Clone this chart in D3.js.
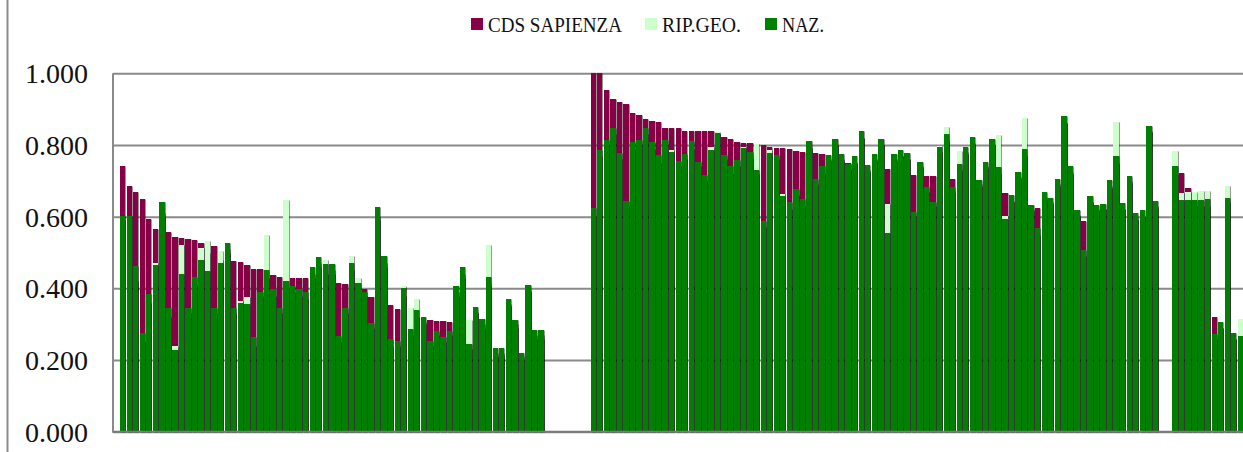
<!DOCTYPE html>
<html>
<head>
<meta charset="utf-8">
<script src="https://d3js.org/d3.v7.min.js"></script>
<style>
  body { margin: 0; background: #fff; }
  text { font-family: "Liberation Serif", "DejaVu Serif", serif; fill: #111; }
</style>
</head>
<body>
<svg id="chart" width="1243" height="452"></svg>
<script>
// series names and legend
var seriesNames = ["CDS SAPIENZA", "RIP.GEO.", "NAZ."];
var seriesColors = ["#870045", "#ccffcc", "#008000"];
var yTicks = [0, 0.2, 0.4, 0.6, 0.8, 1.0];

// values per category slot, null = empty slot between blocks
var cdsSapienza = [
  0.740, 0.686, 0.668, 0.648, 0.593, 0.566, 0.600, 0.558, 0.544, 0.540,
  0.539, 0.536, 0.527, 0.500, 0.518, 0.480, 0.500, 0.477, 0.473, 0.464,
  0.455, 0.455, 0.430, 0.436, 0.433, 0.400, 0.428, 0.428, 0.428, 0.430,
  0.460, 0.440, 0.440, 0.414, 0.412, 0.450, 0.390, 0.398, 0.375, 0.590,
  0.460, 0.353, 0.342, 0.380, 0.270, 0.320, 0.300, 0.312, 0.310, 0.308,
  0.306, 0.380, 0.430, 0.230, 0.330, 0.290, 0.410, 0.210, 0.210, 0.350,
  0.290, 0.200, 0.390, 0.260, 0.260,
  null, null, null, null, null, null, null,
  1.000, 1.000, 0.953, 0.927, 0.920, 0.913, 0.888, 0.883, 0.872, 0.866,
  0.865, 0.847, 0.847, 0.846, 0.839, 0.839, 0.839, 0.839, 0.839, 0.830,
  0.823, 0.818, 0.809, 0.806, 0.806, 0.720, 0.800, 0.793, 0.792, 0.791,
  0.788, 0.784, 0.781, 0.790, 0.778, 0.776, 0.760, 0.800, 0.760, 0.750,
  0.750, 0.820, 0.730, 0.760, 0.800, 0.733, 0.760, 0.770, 0.760, 0.717,
  0.740, 0.714, 0.714, 0.780, 0.810, 0.704, 0.730, 0.780, 0.800, 0.690,
  0.740, 0.800, 0.720, 0.667, 0.645, 0.710, 0.770, 0.620, 0.625, 0.655,
  0.640, 0.690, 0.860, 0.725, 0.605, 0.588, 0.640, 0.620, 0.620, 0.685,
  0.750, 0.620, 0.700, 0.595, 0.600, 0.840, 0.630,
  null, null,
  0.720, 0.723, 0.679, 0.630, 0.630, 0.630, 0.319, 0.290, 0.640, 0.260,
  0.250
];

var ripGeo = [
  0.590, 0.600, 0.420, 0.250, 0.360, 0.470, 0.610, 0.320, 0.239, 0.521,
  0.330, 0.410, 0.513, 0.532, 0.330, 0.504, 0.510, 0.330, 0.365, 0.376,
  0.240, 0.380, 0.548, 0.380, 0.330, 0.646, 0.390, 0.380, 0.370, 0.440,
  0.470, 0.479, 0.450, 0.250, 0.330, 0.489, 0.428, 0.380, 0.290, 0.600,
  0.470, 0.240, 0.240, 0.407, 0.344, 0.370, 0.305, 0.240, 0.270, 0.250,
  0.270, 0.390, 0.440, 0.312, 0.335, 0.300, 0.521, 0.220, 0.220, 0.355,
  0.300, 0.210, 0.395, 0.270, 0.270,
  null, null, null, null, null, null, null,
  0.600, 0.770, 0.800, 0.830, 0.760, 0.630, 0.790, 0.800, 0.830, 0.790,
  0.750, 0.800, 0.786, 0.740, 0.760, 0.790, 0.740, 0.700, 0.795, 0.836,
  0.760, 0.720, 0.740, 0.793, 0.760, 0.802, 0.570, 0.786, 0.760, 0.663,
  0.620, 0.660, 0.630, 0.795, 0.690, 0.720, 0.755, 0.800, 0.755, 0.730,
  0.750, 0.820, 0.725, 0.755, 0.800, 0.636, 0.755, 0.770, 0.760, 0.600,
  0.735, 0.670, 0.630, 0.797, 0.850, 0.670, 0.783, 0.775, 0.805, 0.685,
  0.735, 0.800, 0.828, 0.602, 0.640, 0.705, 0.874, 0.615, 0.550, 0.650,
  0.635, 0.685, 0.860, 0.720, 0.600, 0.490, 0.640, 0.615, 0.620, 0.680,
  0.863, 0.620, 0.695, 0.590, 0.600, 0.835, 0.625,
  null, null,
  0.784, 0.665, 0.668, 0.669, 0.672, 0.672, 0.260, 0.290, 0.686, 0.260,
  0.314
];

var naz = [
  0.603, 0.603, 0.463, 0.276, 0.384, 0.465, 0.642, 0.346, 0.228, 0.440,
  0.346, 0.431, 0.479, 0.447, 0.346, 0.472, 0.527, 0.346, 0.358, 0.356,
  0.265, 0.391, 0.451, 0.397, 0.346, 0.420, 0.407, 0.397, 0.391, 0.459,
  0.487, 0.468, 0.467, 0.268, 0.346, 0.470, 0.414, 0.391, 0.304, 0.627,
  0.490, 0.260, 0.253, 0.400, 0.287, 0.339, 0.319, 0.253, 0.282, 0.263,
  0.282, 0.407, 0.459, 0.246, 0.348, 0.314, 0.432, 0.234, 0.233, 0.370,
  0.311, 0.220, 0.409, 0.283, 0.283,
  null, null, null, null, null, null, null,
  0.625, 0.786, 0.814, 0.847, 0.777, 0.645, 0.809, 0.814, 0.848, 0.809,
  0.771, 0.814, 0.781, 0.756, 0.776, 0.810, 0.753, 0.716, 0.786, 0.833,
  0.772, 0.741, 0.758, 0.792, 0.780, 0.730, 0.587, 0.779, 0.772, 0.659,
  0.642, 0.676, 0.649, 0.812, 0.705, 0.741, 0.773, 0.817, 0.774, 0.746,
  0.768, 0.839, 0.744, 0.774, 0.817, 0.555, 0.774, 0.786, 0.777, 0.613,
  0.753, 0.684, 0.642, 0.793, 0.831, 0.684, 0.747, 0.793, 0.821, 0.702,
  0.752, 0.816, 0.739, 0.593, 0.660, 0.726, 0.789, 0.633, 0.569, 0.669,
  0.652, 0.705, 0.882, 0.741, 0.619, 0.507, 0.657, 0.633, 0.636, 0.701,
  0.768, 0.638, 0.714, 0.610, 0.618, 0.854, 0.644,
  null, null,
  0.740, 0.646, 0.646, 0.646, 0.646, 0.649, 0.273, 0.307, 0.653, 0.274,
  0.268
];

var series = [cdsSapienza, ripGeo, naz];
var slots = d3.range(naz.length);

var svg = d3.select("#chart");

// soft shadow like the office chart
var defs = svg.append("defs");
defs.append("filter")
    .attr("id", "shadow")
    .attr("x", "-10%").attr("y", "-5%")
    .attr("width", "130%").attr("height", "115%")
  .append("feDropShadow")
    .attr("dx", 1).attr("dy", 0.5)
    .attr("stdDeviation", 0.5)
    .attr("flood-color", "#000")
    .attr("flood-opacity", 0.4);

// outer frame line on the left
svg.append("line")
    .attr("x1", 7.5).attr("x2", 7.5)
    .attr("y1", 0).attr("y2", 452)
    .attr("stroke", "#8c8c8c")
    .attr("stroke-width", 2);

var plotLeft = 113, plotTop = 73.3, plotBottom = 431.7;
var step = 6.536, padIn = 0.18, padOut = 1.07;

var x = d3.scaleBand()
    .domain(slots)
    .range([plotLeft, plotLeft + step * (slots.length - padIn + 2 * padOut)])
    .paddingInner(padIn)
    .paddingOuter(padOut);

var y = d3.scaleLinear().domain([0, 1]).range([plotBottom, plotTop]);

// gridlines
svg.append("g")
    .attr("class", "grid")
    .attr("transform", "translate(" + plotLeft + ",0)")
    .call(d3.axisLeft(y).tickValues(yTicks).tickSize(-(1243 - plotLeft)).tickFormat(""))
    .call(function(g) {
      g.select(".domain").remove();
      g.selectAll("line")
        .attr("stroke", "#8a8a8a")
        .attr("stroke-width", 2);
    });

// y labels
svg.append("g")
    .attr("class", "y axis")
    .attr("transform", "translate(88,0)")
    .call(d3.axisLeft(y).tickValues(yTicks).tickSize(0).tickPadding(0).tickFormat(d3.format(".3f")))
    .call(function(g) {
      g.select(".domain").remove();
      g.selectAll("text")
        .attr("font-size", 28)
        .attr("font-family", "Liberation Serif")
        .attr("fill", "#111")
        .attr("dy", "0.34em");
    });

// bars, back to front; snapped to whole pixels so every gap shows
function bx(i) { return Math.round(x(i)); }
function bw(i) { return Math.round(x(i) + x.bandwidth()) - bx(i); }

series.forEach(function(vals, s) {
  svg.append("g")
      .attr("filter", "url(#shadow)")
    .selectAll("rect")
      .data(slots.filter(function(i) { return vals[i] != null; }))
    .enter().append("rect")
      .attr("x", bx)
      .attr("width", bw)
      .attr("y", function(i) { return y(vals[i]); })
      .attr("height", function(i) { return y(0) - y(vals[i]); })
      .attr("shape-rendering", "crispEdges")
      .attr("fill", seriesColors[s]);
});

// plot frame: left and bottom
svg.append("line")
    .attr("x1", plotLeft).attr("x2", plotLeft)
    .attr("y1", plotTop).attr("y2", plotBottom + 1)
    .attr("stroke", "#8a8a8a").attr("stroke-width", 2);
svg.append("line")
    .attr("x1", plotLeft).attr("x2", 1243)
    .attr("y1", plotBottom).attr("y2", plotBottom)
    .attr("stroke", "#7a7a7a").attr("stroke-width", 2);

// legend
var legendX = [471, 645, 765];
var legendW = [134, 79, 42];
var legend = svg.append("g").attr("class", "legend");
seriesNames.forEach(function(name, i) {
  legend.append("rect")
      .attr("x", legendX[i]).attr("y", 18)
      .attr("width", 12).attr("height", 12)
      .attr("fill", seriesColors[i]);
  legend.append("text")
      .attr("x", legendX[i] + 17).attr("y", 32)
      .attr("font-size", 20)
      .attr("textLength", legendW[i])
      .attr("lengthAdjust", "spacingAndGlyphs")
      .text(name);
});
</script>
</body>
</html>
